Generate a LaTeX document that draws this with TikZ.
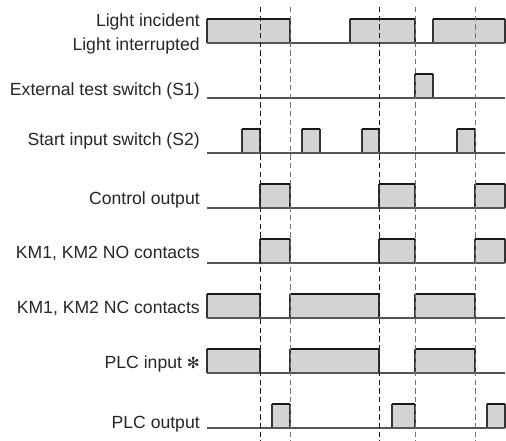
\documentclass[tikz,border=0pt]{standalone}
\usepackage{fontspec}
\setmainfont{Liberation Sans}
\newfontfamily\symfont{DejaVu Sans}
\usetikzlibrary{calc}
\definecolor{boxgray}{RGB}{210,211,213}
\definecolor{wiregray}{RGB}{85,85,85}
\tikzset{
	lbl/.style={anchor=base east, inner sep=0pt, text=black!85, font=\fontsize{13.2}{15}\selectfont},
	wire/.style={line width=0.9pt, color=wiregray},
	side/.style={line width=0.9pt, color=black!80},
	top/.style={line width=1.6pt, color=black!90},
	tick/.style={line width=0.6pt, dash pattern=on 4pt off 2.5pt}
}
% one raised pulse: \pulse(base)(from:to)
\def\pulse(#1)(#2:#3){\fill[boxgray] (#2,#1-24) rectangle (#3,#1);
	\draw[side] (#2,#1) -- (#2,#1-24);
	\draw[side] (#3,#1-24) -- (#3,#1);
	\draw[top] (#2,#1-24) -- (#3,#1-24);}

\begin{document}
\begin{tikzpicture}[x=0.75pt, y=-0.75pt]
	%%%%% START %%%%%
	\useasboundingbox (0,0) rectangle (506,441);
	
	% labels
	\node[lbl] (light-in) at (200,26.5) {Light incident};
	\node[lbl] (light-out) at (200,50.5) {Light interrupted};
	\node[lbl] (s1) at (200,96) {External test switch (S1)};
	\node[lbl] (s2) at (200,146) {Start input switch (S2)};
	\node[lbl] (ctrl) at (200,205) {Control output};
	\node[lbl] (km-no) at (200,259) {KM1, KM2 NO contacts};
	\node[lbl] (km-nc) at (200,313.5) {KM1, KM2 NC contacts};
	\node[lbl] (plc-in) at (200,368) {PLC input {\symfont\fontsize{11.5}{13}\selectfont ✻}};
	\node[lbl] (plc-out) at (200,428) {PLC output};
	
	% light
	\pulse(43)(207:290) \pulse(43)(350:415) \pulse(43)(433:505)
	\draw[wire] (207,43) -- (505,43);
	
	% S1
	\pulse(98)(415:433)
	\draw[wire] (207,98) -- (505,98);
	
	% S2
	\foreach \a/\b in {242/260,302/320,362/379,457/475} {\pulse(153)(\a:\b)}
	\draw[wire] (207,153) -- (505,153);
	
	% control output, NO contacts
	\foreach \r in {208,263} {
		\foreach \a/\b in {260/290,379/415,475/505} {\pulse(\r)(\a:\b)}
		\draw[wire] (207,\r) -- (505,\r);
	}
	
	% NC contacts, PLC input
	\foreach \r in {318,373} {
		\foreach \a/\b in {207/260,290/379,415/475} {\pulse(\r)(\a:\b)}
		\draw[wire] (207,\r) -- (505,\r);
	}
	
	% PLC output
	\foreach \a/\b in {272/290,392/415,487/505} {\pulse(428)(\a:\b)}
	\draw[wire] (207,428) -- (505,428);
	
	% timing marks
	\foreach \x/\c in {260/black!90,290/black!55,379/black!90,415/black!55,475/black!55}
		\draw[tick, color=\c] (\x,7) -- (\x,441);
	
	%%%%% END %%%%%
\end{tikzpicture}
\end{document}
